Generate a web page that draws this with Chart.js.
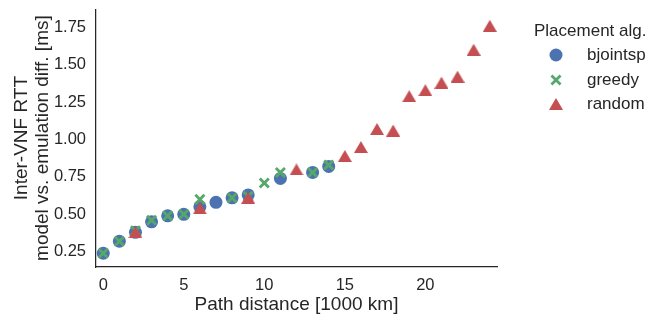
<!DOCTYPE html>
<html>
<head>
<meta charset="utf-8">
<script src="https://cdn.jsdelivr.net/npm/chart.js@4/dist/chart.umd.min.js"></script>
<style>
  html, body { margin: 0; padding: 0; background: #ffffff; }
  #wrap { position: relative; width: 652px; height: 320px; }
</style>
</head>
<body>
<div id="wrap"><canvas id="c" width="652" height="320"></canvas></div>
<script>
// ---- data ----
const seriesNames = ["bjointsp", "greedy", "random"];

const bjointspX = [0, 1, 2, 3, 4, 5, 6, 7, 8, 9, 11, 13, 14];
const bjointspY = [0.24, 0.32, 0.38, 0.45, 0.49, 0.50, 0.55, 0.58, 0.61, 0.63, 0.74, 0.78, 0.82];

const greedyX = [0, 1, 2, 3, 4, 5, 6, 8, 9, 10, 11, 13, 14];
const greedyY = [0.24, 0.32, 0.39, 0.46, 0.49, 0.50, 0.60, 0.61, 0.62, 0.71, 0.78, 0.78, 0.83];

const randomX = [2, 6, 9, 12, 15, 16, 17, 18, 19, 20, 21, 22, 23, 24];
const randomY = [0.38, 0.54, 0.61, 0.80, 0.89, 0.95, 1.07, 1.06, 1.29, 1.33, 1.38, 1.42, 1.60, 1.76];

const xTicks = [0, 5, 10, 15, 20];
const yTicks = [0.25, 0.50, 0.75, 1.00, 1.25, 1.50, 1.75];

const xTitle = "Path distance [1000 km]";
const yTitle = ["Inter-VNF RTT", "model vs. emulation diff. [ms]"];
const legendTitle = "Placement alg.";

// ---- styling ----
const FONT = '"Liberation Sans", Arial, sans-serif';
const TXT = '#262626';
const BLUE = '#4C72B0', GREEN = '#55A868', RED = '#C44E52';

function triangleImage(color, w, h) {
  const c = document.createElement('canvas');
  c.width = w; c.height = h;
  const g = c.getContext('2d');
  g.fillStyle = color;
  g.beginPath();
  g.moveTo(w / 2, 0);
  g.lineTo(w, h);
  g.lineTo(0, h);
  g.closePath();
  g.fill();
  return c;
}
const triImg = triangleImage(RED, 14, 12);

function pts(xs, ys) { return xs.map((x, i) => ({ x: x, y: ys[i] })); }

const CROSS_R = 6.4, CROSS_W = 2.8, CIRC_R = 6.5;

const datasets = [
  { label: seriesNames[0], data: pts(bjointspX, bjointspY), order: 3,
    pointStyle: 'circle', pointRadius: CIRC_R, pointHoverRadius: CIRC_R,
    backgroundColor: BLUE, borderColor: BLUE, pointBorderWidth: 0 },
  { label: seriesNames[1], data: pts(greedyX, greedyY), order: 2,
    pointStyle: 'crossRot', pointRadius: CROSS_R, pointHoverRadius: CROSS_R,
    backgroundColor: GREEN, borderColor: GREEN, pointBorderWidth: CROSS_W },
  { label: seriesNames[2], data: pts(randomX, randomY), order: 1,
    pointStyle: triImg, pointRadius: 7, pointHoverRadius: 7,
    backgroundColor: RED, borderColor: RED, pointBorderWidth: 0 }
];

const legendPlugin = {
  id: 'customLegend',
  afterDraw(chart) {
    const ctx = chart.ctx;
    ctx.save();
    ctx.fillStyle = TXT;
    ctx.textBaseline = 'middle';
    ctx.textAlign = 'left';
    ctx.font = '17px ' + FONT;
    ctx.fillText(legendTitle, 534, 31);
    const rowsY = [55, 80, 104];
    const mx = 556, tx = 587;
    datasets.forEach((ds, i) => {
      const y = rowsY[i];
      if (ds.pointStyle === 'circle') {
        ctx.fillStyle = ds.backgroundColor;
        ctx.beginPath(); ctx.arc(mx, y, CIRC_R, 0, Math.PI * 2); ctx.fill();
      } else if (ds.pointStyle === 'crossRot') {
        const o = CROSS_R * Math.SQRT1_2;
        ctx.strokeStyle = ds.borderColor; ctx.lineWidth = CROSS_W;
        ctx.beginPath();
        ctx.moveTo(mx - o, y - o); ctx.lineTo(mx + o, y + o);
        ctx.moveTo(mx - o, y + o); ctx.lineTo(mx + o, y - o);
        ctx.stroke();
      } else {
        const im = ds.pointStyle;
        ctx.drawImage(im, mx - im.width / 2, y - im.height / 2);
      }
      ctx.fillStyle = TXT;
      ctx.fillText(ds.label, tx, y);
    });
    ctx.restore();
  }
};

new Chart(document.getElementById('c'), {
  type: 'scatter',
  data: { datasets: datasets },
  options: {
    responsive: false,
    animation: false,
    devicePixelRatio: 1,
    layout: { padding: { top: 5, right: 155, left: 0, bottom: 0 } },
    plugins: { legend: { display: false }, tooltip: { enabled: false } },
    scales: {
      x: {
        type: 'linear', min: -0.45, max: 24.45,
        grid: { display: false, drawTicks: false },
        border: { display: true, color: TXT, width: 1.25 },
        afterBuildTicks: s => { s.ticks = xTicks.map(v => ({ value: v })); },
        afterFit: s => { s.height = 53; s.paddingLeft = 0; s.paddingRight = 0; },
        ticks: { color: TXT, padding: 9, font: { family: FONT, size: 16.5 },
                 callback: v => String(v), maxRotation: 0 },
        title: { display: true, text: xTitle, color: TXT,
                 font: { family: FONT, size: 19 }, padding: { top: 0, bottom: 4 } }
      },
      y: {
        type: 'linear', min: 0.148, max: 1.871,
        grid: { display: false, drawTicks: false },
        border: { display: true, color: TXT, width: 1.25 },
        afterBuildTicks: s => { s.ticks = yTicks.map(v => ({ value: v })); },
        afterFit: s => { s.width = 96; s.paddingTop = 0; s.paddingBottom = 0; },
        ticks: { color: TXT, padding: 10, font: { family: FONT, size: 16.5 },
                 callback: v => Number(v).toFixed(2) },
        title: { display: true, text: yTitle, color: TXT,
                 font: { family: FONT, size: 19, lineHeight: 1.1 }, padding: { top: 11, bottom: 0 } }
      }
    }
  },
  plugins: [legendPlugin]
});
</script>
</body>
</html>
